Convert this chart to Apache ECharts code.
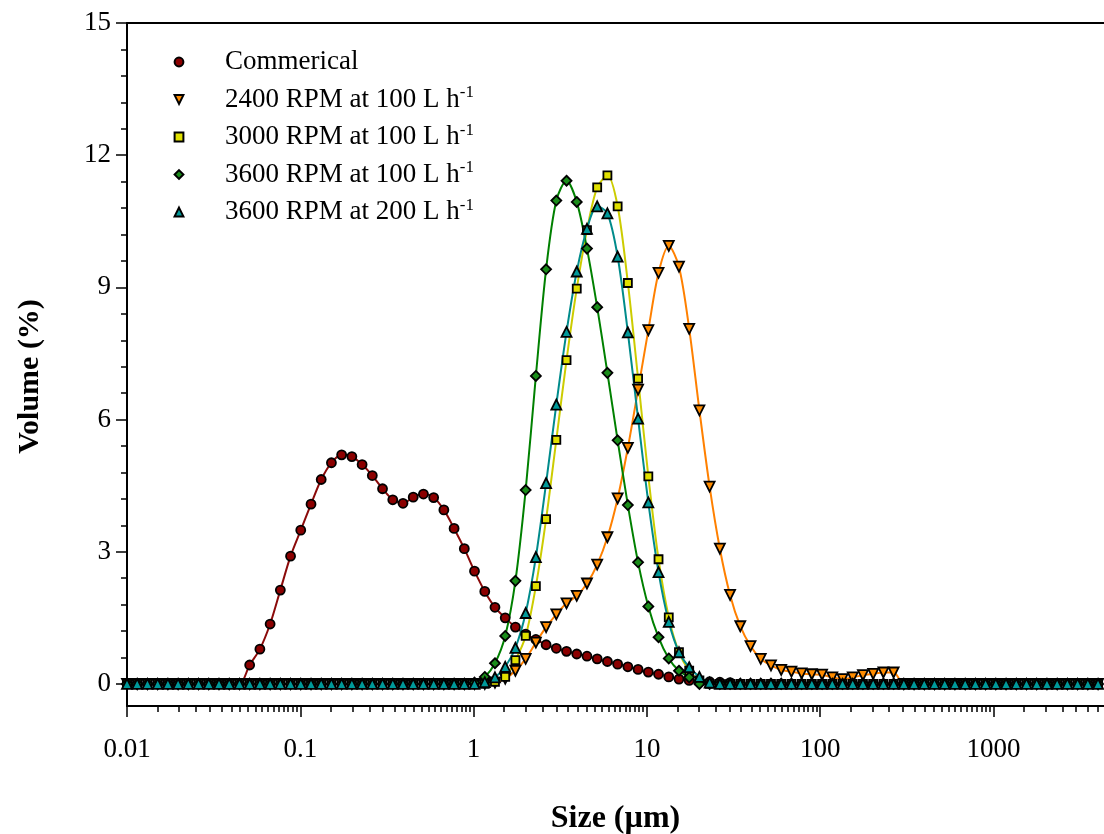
<!DOCTYPE html>
<html>
<head>
<meta charset="utf-8">
<script src="https://cdn.jsdelivr.net/npm/echarts@6/dist/echarts.min.js"></script>
<style>
html,body{margin:0;padding:0;background:#fff;}
#chart{width:1104px;height:834px;}
</style>
</head>
<body>
<div id="chart"></div>
<script>
// ---- particle size classes (µm) ----
const sizes = [
  0.0100, 0.01145, 0.01312, 0.01503, 0.01722, 0.01972, 0.02259, 0.02588, 0.02964, 0.03395,
  0.03889, 0.04455, 0.05103, 0.05845, 0.06696, 0.07670, 0.08785, 0.1006, 0.1153, 0.1320,
  0.1512, 0.1732, 0.1984, 0.2273, 0.2603, 0.2982, 0.3416, 0.3913, 0.4482, 0.5134,
  0.5881, 0.6736, 0.7716, 0.8839, 1.012, 1.160, 1.328, 1.522, 1.743, 1.997,
  2.287, 2.620, 3.001, 3.437, 3.937, 4.510, 5.166, 5.917, 6.778, 7.764,
  8.893, 10.19, 11.67, 13.37, 15.31, 17.54, 20.09, 23.01, 26.36, 30.19,
  34.58, 39.61, 45.38, 51.98, 59.54, 68.20, 78.12, 89.48, 102.5, 117.4,
  134.5, 154.0, 176.4, 202.1, 231.5, 265.2, 303.7, 347.9, 398.5, 456.5,
  522.9, 598.9, 686.1, 785.9, 900.2, 1031, 1181, 1353, 1550, 1775,
  2034, 2329, 2668, 3056, 3501, 4010
];

// ---- volume (%) per class ----
const commercial = [
  0, 0, 0, 0, 0, 0, 0, 0, 0, 0,
  0, 0, 0.43, 0.79, 1.36, 2.13, 2.90, 3.49, 4.08, 4.64,
  5.02, 5.20, 5.16, 4.98, 4.73, 4.43, 4.18, 4.10, 4.24, 4.31,
  4.23, 3.95, 3.53, 3.07, 2.56, 2.10, 1.74, 1.50, 1.29, 1.13,
  1.01, 0.89, 0.81, 0.74, 0.68, 0.63, 0.57, 0.51, 0.45, 0.39,
  0.33, 0.27, 0.22, 0.16, 0.11, 0.08, 0.06, 0.05, 0.04, 0.03,
  0, 0, 0, 0, 0, 0, 0, 0, 0, 0,
  0, 0, 0, 0, 0, 0, 0, 0, 0, 0,
  0, 0, 0, 0, 0, 0, 0, 0, 0, 0,
  0, 0, 0, 0, 0, 0
];
const rpm2400_100 = [
  0, 0, 0, 0, 0, 0, 0, 0, 0, 0,
  0, 0, 0, 0, 0, 0, 0, 0, 0, 0,
  0, 0, 0, 0, 0, 0, 0, 0, 0, 0,
  0, 0, 0, 0, 0, 0, 0.03, 0.12, 0.30, 0.57,
  0.94, 1.29, 1.58, 1.83, 2.00, 2.28, 2.71, 3.33, 4.21, 5.36,
  6.68, 8.03, 9.33, 9.94, 9.47, 8.06, 6.21, 4.48, 3.07, 2.02,
  1.31, 0.86, 0.57, 0.42, 0.32, 0.28, 0.24, 0.22, 0.21, 0.15,
  0.11, 0.15, 0.20, 0.23, 0.26, 0.26, 0, 0, 0, 0,
  0, 0, 0, 0, 0, 0, 0, 0, 0, 0,
  0, 0, 0, 0, 0, 0
];
const rpm3000_100 = [
  0, 0, 0, 0, 0, 0, 0, 0, 0, 0,
  0, 0, 0, 0, 0, 0, 0, 0, 0, 0,
  0, 0, 0, 0, 0, 0, 0, 0, 0, 0,
  0, 0, 0, 0, 0, 0, 0.05, 0.16, 0.54, 1.09,
  2.22, 3.74, 5.54, 7.35, 8.97, 10.30, 11.27, 11.54, 10.84, 9.10,
  6.93, 4.71, 2.83, 1.51, 0.72, 0.30, 0.08, 0, 0, 0,
  0, 0, 0, 0, 0, 0, 0, 0, 0, 0,
  0, 0, 0, 0, 0, 0, 0, 0, 0, 0,
  0, 0, 0, 0, 0, 0, 0, 0, 0, 0,
  0, 0, 0, 0, 0, 0
];
const rpm3600_100 = [
  0, 0, 0, 0, 0, 0, 0, 0, 0, 0,
  0, 0, 0, 0, 0, 0, 0, 0, 0, 0,
  0, 0, 0, 0, 0, 0, 0, 0, 0, 0,
  0, 0, 0, 0, 0.03, 0.16, 0.47, 1.09, 2.34, 4.40,
  6.99, 9.41, 10.97, 11.42, 10.94, 9.88, 8.55, 7.06, 5.53, 4.06,
  2.76, 1.76, 1.06, 0.58, 0.30, 0.15, 0, 0, 0, 0,
  0, 0, 0, 0, 0, 0, 0, 0, 0, 0,
  0, 0, 0, 0, 0, 0, 0, 0, 0, 0,
  0, 0, 0, 0, 0, 0, 0, 0, 0, 0,
  0, 0, 0, 0, 0, 0
];
const rpm3600_200 = [
  0, 0, 0, 0, 0, 0, 0, 0, 0, 0,
  0, 0, 0, 0, 0, 0, 0, 0, 0, 0,
  0, 0, 0, 0, 0, 0, 0, 0, 0, 0,
  0, 0, 0, 0, 0, 0.04, 0.15, 0.39, 0.82, 1.61,
  2.88, 4.56, 6.34, 7.99, 9.36, 10.33, 10.84, 10.68, 9.70, 7.98,
  6.02, 4.12, 2.54, 1.41, 0.72, 0.38, 0.16, 0.03, 0, 0,
  0, 0, 0, 0, 0, 0, 0, 0, 0, 0,
  0, 0, 0, 0, 0, 0, 0, 0, 0, 0,
  0, 0, 0, 0, 0, 0, 0, 0, 0, 0,
  0, 0, 0, 0, 0, 0
];

const seriesNames = [
  'Commerical',
  '2400 RPM at 100 L h-1',
  '3000 RPM at 100 L h-1',
  '3600 RPM at 100 L h-1',
  '3600 RPM at 200 L h-1'
];
const seriesValues = [commercial, rpm2400_100, rpm3000_100, rpm3600_100, rpm3600_200];

// ---- axis ticks ----
const X_MIN = 0.01, X_MAX = 4340;
const Y_MIN = -0.5, Y_MAX = 15;
const xMajorTicks = [0.01, 0.1, 1, 10, 100, 1000];
const xMinorTicks = [];
for (let e = -2; e <= 3; e++) {
  for (let m = 1.5; m < 10; m += 0.5) {
    const v = +(m * Math.pow(10, e)).toPrecision(6);
    if (v <= X_MAX) xMinorTicks.push(v);
  }
}
const yMajorTicks = [0, 3, 6, 9, 12, 15];
const yMinorTicks = [];
for (let k = 1; k < 25; k++) { if (k % 5) yMinorTicks.push(+(k * 0.6).toFixed(1)); }

// ---- styles ----
const FONT = "'Liberation Serif', 'Times New Roman', serif";
const styles = [
  { symbol: 'circle',   rotate: 0,   size: 9,  line: '#8B0A0A', fill: '#8B0000' },
  { symbol: 'triangle', rotate: 180, size: 10, line: '#FF8000', fill: '#FF8C00' },
  { symbol: 'rect',     rotate: 0,   size: 8,  line: '#CCCC00', fill: '#E0E000' },
  { symbol: 'diamond',  rotate: 0,   size: 10, line: '#008000', fill: '#1A8C1A' },
  { symbol: 'triangle', rotate: 0,   size: 10, line: '#008B8B', fill: '#009999' }
];

const series = seriesNames.map((name, k) => ({
  name,
  type: 'line',
  xAxisIndex: 0,
  yAxisIndex: 0,
  data: sizes.map((s, i) => [s, seriesValues[k][i]]),
  smooth: 0.3,
  symbol: styles[k].symbol,
  symbolRotate: styles[k].rotate,
  symbolSize: styles[k].size,
  showAllSymbol: true,
  lineStyle: { color: styles[k].line, width: 2 },
  itemStyle: { color: styles[k].fill, borderColor: '#000', borderWidth: 1.8 },
  emphasis: { disabled: true },
  animation: false
}));

const axisLineStyle = { color: '#000', width: 2 };
const tickLineStyle = { color: '#000', width: 1.5 };

const option = {
  backgroundColor: '#fff',
  animation: false,
  grid: { left: 127, top: 23, right: 0, bottom: 128, outerBoundsMode: 'none', containLabel: false },
  legend: {
    orient: 'vertical',
    left: 132,
    top: 42,
    itemWidth: 82,
    itemHeight: 11,
    itemGap: 7.5,
    lineStyle: { opacity: 0 },
    data: seriesNames,
    formatter: (name) => name.endsWith(' h-1')
      ? '{t|' + name.slice(0, -2) + '}{s|-1}'
      : '{t|' + name + '}',
    textStyle: {
      fontFamily: FONT, fontSize: 27, color: '#000', lineHeight: 30,
      rich: {
        t: { fontFamily: FONT, fontSize: 27, color: '#000', lineHeight: 30 },
        s: { fontFamily: FONT, fontSize: 17, color: '#000', lineHeight: 17, verticalAlign: 'top' }
      }
    }
  },
  xAxis: [
    {
      type: 'log', logBase: 10, min: X_MIN, max: X_MAX, position: 'bottom',
      axisLine: { show: true, onZero: false, lineStyle: axisLineStyle },
      axisTick: { show: true, inside: false, length: 11, lineStyle: tickLineStyle, customValues: xMajorTicks },
      axisLabel: {
        show: true, customValues: xMajorTicks, margin: 30,
        formatter: (v) => String(+(+v).toPrecision(6)),
        fontFamily: FONT, fontSize: 27, color: '#000'
      },
      splitLine: { show: false }, minorTick: { show: false },
      name: 'Size (µm)', nameLocation: 'middle', nameGap: 97,
      nameTextStyle: { fontFamily: FONT, fontSize: 32, fontWeight: 'bold', color: '#000' }
    },
    {
      type: 'log', logBase: 10, min: X_MIN, max: X_MAX, position: 'bottom',
      axisLine: { show: false, onZero: false },
      axisTick: { show: true, inside: false, length: 6, lineStyle: tickLineStyle, customValues: xMinorTicks },
      axisLabel: { show: false },
      splitLine: { show: false }
    },
    {
      type: 'log', logBase: 10, min: X_MIN, max: X_MAX, position: 'top',
      axisLine: { show: true, onZero: false, lineStyle: axisLineStyle },
      axisTick: { show: false }, axisLabel: { show: false }, splitLine: { show: false }
    }
  ],
  yAxis: [
    {
      type: 'value', min: Y_MIN, max: Y_MAX, position: 'left',
      axisLine: { show: true, onZero: false, lineStyle: axisLineStyle },
      axisTick: { show: true, inside: false, length: 11, lineStyle: tickLineStyle, customValues: yMajorTicks },
      axisLabel: { show: true, customValues: yMajorTicks, margin: 16, fontFamily: FONT, fontSize: 27, color: '#000' },
      splitLine: { show: false },
      name: 'Volume (%)', nameLocation: 'middle', nameGap: 82, nameRotate: 90,
      nameTextStyle: { fontFamily: FONT, fontSize: 30, fontWeight: 'bold', color: '#000', padding: [0, 24, 0, 0] }
    },
    {
      type: 'value', min: Y_MIN, max: Y_MAX, position: 'left',
      axisLine: { show: false, onZero: false },
      axisTick: { show: true, inside: false, length: 6, lineStyle: tickLineStyle, customValues: yMinorTicks },
      axisLabel: { show: false }, splitLine: { show: false }
    }
  ],
  series
};

const chart = echarts.init(document.getElementById('chart'), null, { renderer: 'canvas' });
chart.setOption(option);
</script>
</body>
</html>
